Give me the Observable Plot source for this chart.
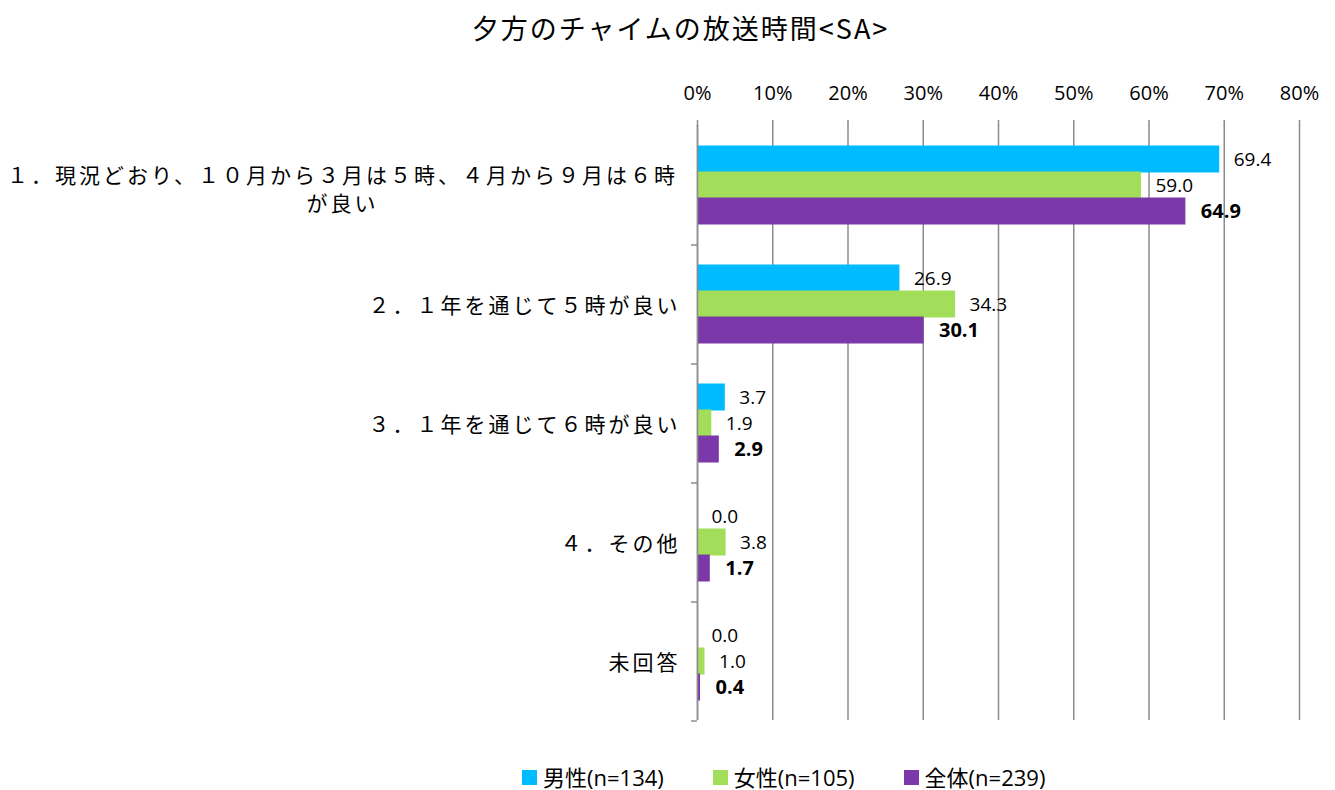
<!DOCTYPE html>
<html>
<head>
<meta charset="utf-8">
<script src="https://cdn.jsdelivr.net/npm/d3@7"></script>
<script src="https://cdn.jsdelivr.net/npm/@observablehq/plot@0.6"></script>
<style>
  body { margin: 0; background: #fff; width: 1335px; height: 790px; position: relative; overflow: hidden; }
  #title { position: absolute; top: 10px; left: 0; width: 1335px; padding-left: 26px; box-sizing: border-box; text-align: center;
    font-family: "Noto Sans CJK JP", sans-serif; font-size: 27px; letter-spacing: 2px; color: #000; line-height: 36px; }
  #chart { position: absolute; top: 60px; left: 0; }
  #legend { position: absolute; top: 762px; left: 522px; display: flex; gap: 49px; font-family: "Open Sans", "Noto Sans CJK JP", sans-serif; font-size: 22px; line-height: 30px; color: #000; }
  #legend .item { display: flex; align-items: center; }
  #legend .sw { width: 15px; height: 15px; margin-right: 6px; }
  g.catlabel text { letter-spacing: 3px; }
</style>
</head>
<body>
<div id="title">夕方のチャイムの放送時間&lt;SA&gt;</div>
<div id="chart"></div>
<div id="legend"></div>
<script>
const categories = [
  "１．現況どおり、１０月から３月は５時、４月から９月は６時\nが良い",
  "２．１年を通じて５時が良い",
  "３．１年を通じて６時が良い",
  "４．その他",
  "未回答"
];
const seriesNames = ["男性(n=134)", "女性(n=105)", "全体(n=239)"];
const seriesKeys = ["男性", "女性", "全体"];
const colors = ["#00BBFF", "#A2DE5A", "#7A38A8"];
const male = [69.4, 26.9, 3.7, 0.0, 0.0];
const female = [59.0, 34.3, 1.9, 3.8, 1.0];
const total = [64.9, 30.1, 2.9, 1.7, 0.4];
const xTicks = [0, 10, 20, 30, 40, 50, 60, 70, 80];

const valuesBySeries = [male, female, total];
const data = [];
categories.forEach((c, i) => {
  seriesKeys.forEach((s, j) => data.push({category: c, series: s, value: valuesBySeries[j][i]}));
});

const gridColor = "#8c8c8c";
const chart = Plot.plot({
  width: 1335,
  height: 690,
  marginTop: 63,
  marginBottom: 28,
  marginLeft: 697,
  marginRight: 36,
  style: {fontFamily: "'Open Sans', 'Noto Sans CJK JP', sans-serif", color: "#000", background: "transparent"},
  x: {domain: [0, 80], ticks: xTicks, label: null, axis: null},
  y: {domain: seriesKeys, paddingInner: 0, paddingOuter: 0.75, axis: null},
  fy: {domain: categories, padding: 0, axis: null, label: null},
  color: {domain: seriesKeys, range: colors},
  marks: [
    Plot.gridX(xTicks, {stroke: gridColor, strokeOpacity: 1, strokeWidth: 1.5}),
    Plot.axisX(xTicks, {anchor: "top", label: null, tickFormat: d => d + "%", tickSize: 6, tickPadding: 20, fontSize: 20, stroke: gridColor, strokeWidth: 1.5, line: true}),
    Plot.barX(data, {fy: "category", y: "series", x: "value", fill: "series", insetTop: -0.5, insetBottom: -0.5}),
    Plot.ruleX([0], {stroke: gridColor, strokeWidth: 1.5}),
    Plot.axisFy({anchor: "left", label: null, tickSize: 6, tickFormat: () => "", dy: 60, stroke: gridColor, strokeWidth: 1.5}),
    Plot.text(categories.slice(1), {fy: d => d, text: d => d, frameAnchor: "left", textAnchor: "end", dx: -17, dy: 2, fontSize: 21, className: "catlabel"}),
    Plot.text(categories.slice(0, 1), {fy: d => d, text: d => d, frameAnchor: "left", textAnchor: "middle", dx: -355, dy: 3, fontSize: 21, lineHeight: 1.33, className: "catlabel"}),
    Plot.text(data.filter(d => d.series !== "全体"), {fy: "category", y: "series", x: "value", text: d => d.value.toFixed(1), dx: 14, textAnchor: "start", fontSize: 19}),
    Plot.text(data.filter(d => d.series === "全体"), {fy: "category", y: "series", x: "value", text: d => d.value.toFixed(1), dx: 15, textAnchor: "start", fontSize: 20, fontWeight: "bold"})
  ]
});
document.getElementById("chart").appendChild(chart);

const legend = document.getElementById("legend");
seriesNames.forEach((n, i) => {
  const item = document.createElement("div");
  item.className = "item";
  const sw = document.createElement("span");
  sw.className = "sw";
  sw.style.background = colors[i];
  const t = document.createElement("span");
  t.textContent = n;
  item.appendChild(sw);
  item.appendChild(t);
  legend.appendChild(item);
});
</script>
</body>
</html>
